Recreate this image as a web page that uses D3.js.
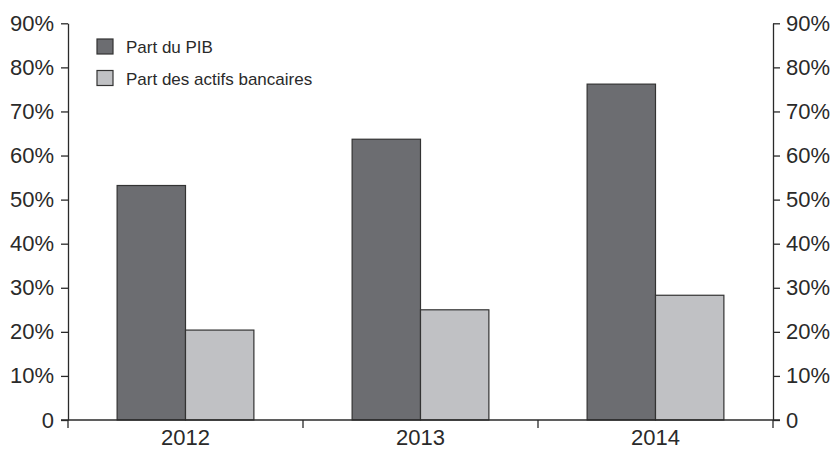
<!DOCTYPE html>
<html>
<head>
<meta charset="utf-8">
<script src="https://cdn.jsdelivr.net/npm/d3@7"></script>
<style>
  html, body { margin: 0; padding: 0; background: #fff; }
  svg { display: block; font-family: "Liberation Sans", Arial, sans-serif; }
</style>
</head>
<body>
<svg id="chart" width="836" height="449"></svg>
<script>
// Years on the horizontal axis
const years = ["2012", "2013", "2014"];
// Series (percent)
const partPIB = [53.2, 63.7, 76.2];
const partActifs = [20.4, 25.0, 28.3];
const seriesNames = ["Part du PIB", "Part des actifs bancaires"];
const seriesColors = ["#6c6d71", "#c0c1c4"];
const yTicks = [0, 10, 20, 30, 40, 50, 60, 70, 80, 90];

const svg = d3.select("#chart");
const plotLeft = 68, plotRight = 773, plotTop = 23.3, plotBottom = 420;
const ink = "#2a2a2a";

const x = d3.scaleBand().domain(years).range([plotLeft, plotRight]).padding(0);
const inner = d3.scaleBand().domain([0, 1])
  .range([x.bandwidth() * 0.209, x.bandwidth() * 0.791]).padding(0);
const y = d3.scaleLinear().domain([0, 90]).range([plotBottom, plotTop]);

const fmt = d => d === 0 ? "0" : d + "%";

// Bars
const rows = years.map((yr, i) => ({ yr, vals: [partPIB[i], partActifs[i]] }));
const groups = svg.append("g").selectAll("g").data(rows).join("g")
  .attr("transform", d => `translate(${x(d.yr)},0)`);
groups.selectAll("rect").data(d => d.vals.map((v, k) => ({ v, k }))).join("rect")
  .attr("x", d => inner(d.k))
  .attr("width", inner.bandwidth())
  .attr("y", d => y(d.v))
  .attr("height", d => y(0) - y(d.v))
  .attr("fill", d => seriesColors[d.k])
  .attr("stroke", "#333")
  .attr("stroke-width", 1.2);

// Axes
function styleAxis(g, size) {
  g.select(".domain").attr("stroke", ink).attr("stroke-width", 1.3);
  g.selectAll(".tick line").attr("stroke", ink).attr("stroke-width", 1.3);
  g.selectAll(".tick text").attr("fill", ink).style("font-size", size + "px")
    .style("font-family", '"Liberation Sans", Arial, sans-serif');
}

svg.append("g").attr("transform", `translate(${plotLeft},0)`)
  .call(d3.axisLeft(y).tickValues(yTicks).tickFormat(fmt).tickSize(7).tickSizeOuter(0).tickPadding(7))
  .call(g => styleAxis(g, 22));

svg.append("g").attr("transform", `translate(${plotRight},0)`)
  .call(d3.axisRight(y).tickValues(yTicks).tickFormat(fmt).tickSize(7).tickSizeOuter(0).tickPadding(6))
  .call(g => styleAxis(g, 22));

// Horizontal axis with ticks at the band boundaries
const xAxisG = svg.append("g").attr("transform", `translate(0,${plotBottom})`);
xAxisG.append("line").attr("x1", plotLeft - 7).attr("x2", plotRight + 7)
  .attr("stroke", ink).attr("stroke-width", 1.3);
const bounds = [plotLeft].concat(years.map(d => x(d) + x.bandwidth()));
xAxisG.selectAll("line.tk").data(bounds).join("line").attr("class", "tk")
  .attr("x1", d => d).attr("x2", d => d).attr("y1", 0).attr("y2", 8)
  .attr("stroke", ink).attr("stroke-width", 1.3);
xAxisG.selectAll("text").data(years).join("text")
  .attr("x", d => x(d) + x.bandwidth() / 2)
  .attr("y", 24.5)
  .attr("text-anchor", "middle")
  .attr("fill", ink)
  .style("font-size", "22px")
  .text(d => d);

// Legend
const legend = svg.append("g").attr("transform", "translate(97,39)");
const li = legend.selectAll("g").data(seriesNames).join("g")
  .attr("transform", (d, i) => `translate(0,${i * 31.5})`);
li.append("rect").attr("width", 16).attr("height", 15)
  .attr("fill", (d, i) => seriesColors[i]).attr("stroke", "#333").attr("stroke-width", 1.2);
li.append("text").attr("x", 29).attr("y", 14)
  .attr("fill", ink).style("font-size", "17px").text(d => d);
</script>
</body>
</html>
